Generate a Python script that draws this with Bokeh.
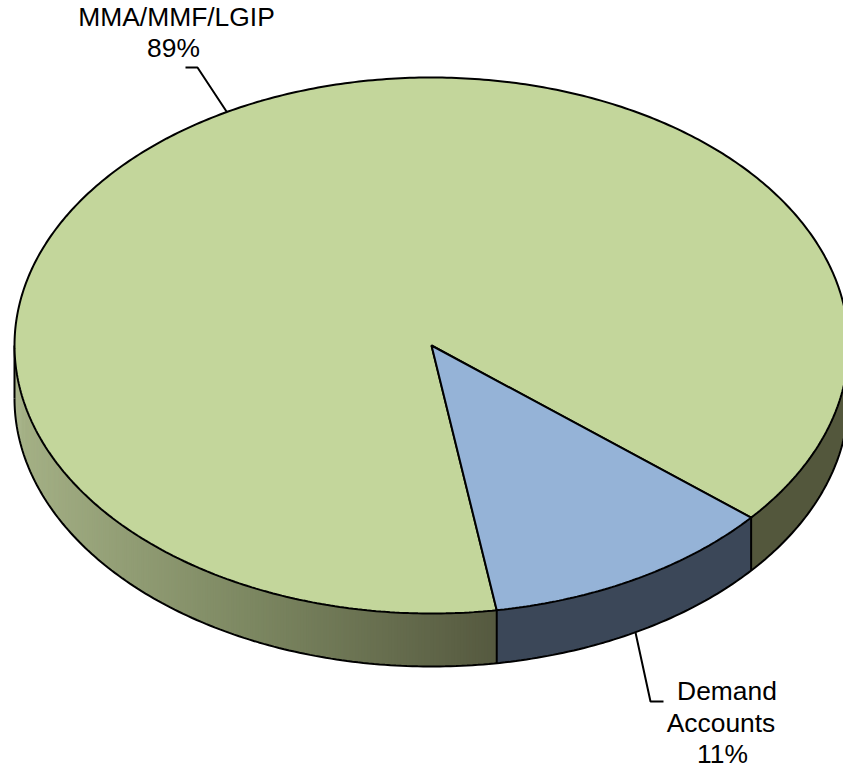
import numpy as np
from bokeh.embed import file_html
from bokeh.resources import INLINE
from bokeh.plotting import figure
from bokeh.models import ColumnDataSource
from bokeh.core.properties import value

# ---- data
categories = ["MMA/MMF/LGIP", "Demand Accounts"]
shares = [88.6, 11.4]
share_labels = ["89%", "11%"]
top_colors = ["#c3d69b", "#95b3d7"]
side_blue = "#3b4758"
side_green_stops_x = [14, 250, 496]
side_green_stops = [(166, 178, 135), (125, 136, 98), (86, 90, 64)]
side_green_right = "#53573c"

# ---- layout of the pie
W, H = 843, 769
CX, CY, RX, RY, DEPTH = 431, 345, 417, 268, 53
BLUE_START = -81.0  # degrees on the ellipse
LW = 2
TEXT_SHIFT = 10  # the page draws alphabetic text this far below its anchor


def rim(phi_deg, drop=0.0):
    a = np.radians(phi_deg)
    return CX + RX * np.cos(a), CY - RY * np.sin(a) + drop


p = figure(width=W, height=H, x_range=(0, W), y_range=(H, 0),
           toolbar_location=None, output_backend="svg", min_border=0,
           outline_line_color=None, background_fill_color="white")
p.axis.visible = False
p.grid.visible = False

blue_end = BLUE_START + shares[1] * 3.6


def wall(a, b, n=60):
    phi = np.linspace(a, b, n)
    tx, ty = rim(phi)
    bx, by = rim(phi, DEPTH)
    return np.r_[tx, bx[::-1]], np.r_[ty, by[::-1]]


# side wall of the large slice, left part: bands that overlap, shading left to right
phis = np.linspace(180, 360 + BLUE_START, 240)
for a, b in zip(phis[:-1], np.r_[phis[2:], phis[-1]]):
    xm = rim((a + b) / 2)[0]
    c = tuple(int(np.interp(xm, side_green_stops_x, [s[i] for s in side_green_stops])) for i in range(3))
    wx, wy = wall(a, b, 4)
    p.patch(wx, wy, fill_color="#%02x%02x%02x" % c, line_color=None)

# side wall of the other parts
wx, wy = wall(BLUE_START, blue_end)
p.patch(wx, wy, fill_color=side_blue, line_color=None)
wx, wy = wall(blue_end, 0)
p.patch(wx, wy, fill_color=side_green_right, line_color=None)

# side wall outline and vertical edges
bx, by = rim(np.linspace(180, 360, 240), DEPTH)
p.line(bx, by, line_color="black", line_width=LW)
for a in [180, BLUE_START, blue_end, 0]:
    x0, y0 = rim(a)
    x1, y1 = rim(a, DEPTH)
    p.line([x0, x1], [y0, y1], line_color="black", line_width=LW)

# top face slices
gx, gy = rim(np.linspace(blue_end, BLUE_START + 360, 500))
p.patch(np.r_[CX, gx], np.r_[CY, gy], fill_color=top_colors[0], line_color="black", line_width=LW)
qx, qy = rim(np.linspace(BLUE_START, blue_end, 80))
p.patch(np.r_[CX, qx], np.r_[CY, qy], fill_color=top_colors[1], line_color="black", line_width=LW)

# leader lines
p.line([185, 197, 226], [67, 67, 111], line_color="black", line_width=LW)
p.line([635, 650, 663], [632, 701, 701], line_color="black", line_width=LW)

# labels
baselines = np.array([26, 57, 700, 732, 763])
src = ColumnDataSource(dict(
    x=[176, 173, 726.5, 720.5, 722],
    y=baselines - TEXT_SHIFT,
    t=[categories[0], share_labels[0], "Demand", "Accounts", share_labels[1]],
))
p.text("x", "y", text="t", source=src, text_font=value("Liberation Sans"), text_font_size="26.4px",
       text_align="center", text_baseline="alphabetic", text_color="black")

open("out.html", "w").write(file_html(p, INLINE))
